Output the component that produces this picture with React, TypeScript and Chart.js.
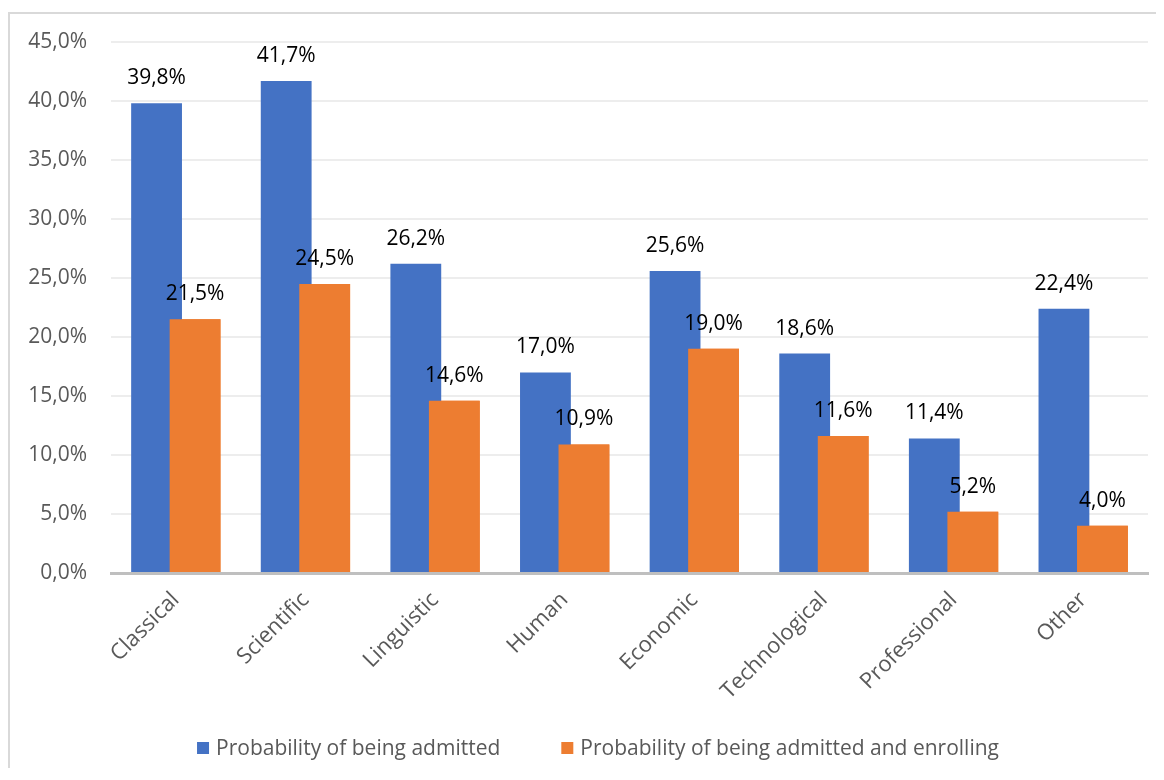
import React, { useEffect, useRef } from "react";
import { Chart, registerables } from "chart.js";

Chart.register(...registerables);

const categories = [
  "Classical",
  "Scientific",
  "Linguistic",
  "Human",
  "Economic",
  "Technological",
  "Professional",
  "Other",
];

const admitted = [39.8, 41.7, 26.2, 17.0, 25.6, 18.6, 11.4, 22.4];
const admittedAndEnrolling = [21.5, 24.5, 14.6, 10.9, 19.0, 11.6, 5.2, 4.0];

const seriesNames = [
  "Probability of being admitted",
  "Probability of being admitted and enrolling",
];

const seriesColors = ["#4472C4", "#ED7D31"];

const yTicks = [0, 5, 10, 15, 20, 25, 30, 35, 40, 45];

const FONT = "'Open Sans', Lato, sans-serif";
const FONT_SIZE = 21;
const fmt = (v: number) => v.toFixed(1).replace(".", ",") + "%";

// Puts the second series over the first where the grouped bars overlap,
// then writes each bar's value just above its top edge
const overlapAndLabels = {
  id: "overlapAndLabels",
  afterDatasetsDraw(chart: any) {
    const ctx = chart.ctx;
    const front = chart.getDatasetMeta(1);
    if (front && front.controller) front.controller.draw();

    ctx.save();
    ctx.font = `${FONT_SIZE}px ${FONT}`;
    ctx.fillStyle = "#000000";
    ctx.textAlign = "center";
    ctx.textBaseline = "alphabetic";
    chart.data.datasets.forEach((ds: any, i: number) => {
      const meta = chart.getDatasetMeta(i);
      meta.data.forEach((bar: any, j: number) => {
        ctx.fillText(fmt(ds.data[j]), bar.x, bar.y - 19);
      });
    });
    ctx.restore();
  },
};

// Legend row along the bottom: square swatch, then the series name
const bottomLegend = {
  id: "bottomLegend",
  afterDraw(chart: any) {
    const ctx = chart.ctx;
    const box = 12;
    const textGap = 7;
    const itemGap = 61;
    const centerY = chart.height - 24;
    ctx.save();
    ctx.font = `${FONT_SIZE}px ${FONT}`;
    ctx.textBaseline = "middle";
    ctx.textAlign = "left";
    const widths = seriesNames.map((n) => ctx.measureText(n).width);
    const total =
      widths.reduce((a, w) => a + box + textGap + w, 0) + itemGap * (seriesNames.length - 1);
    let x = chart.width / 2 + 11 - total / 2;
    seriesNames.forEach((name, i) => {
      ctx.fillStyle = seriesColors[i];
      ctx.fillRect(x, centerY - box / 2, box, box);
      x += box + textGap;
      ctx.fillStyle = "#595959";
      ctx.fillText(name, x, centerY + 1);
      x += widths[i] + itemGap;
    });
    ctx.restore();
  },
};

export default function App() {
  const canvasRef = useRef<HTMLCanvasElement | null>(null);

  useEffect(() => {
    if (!canvasRef.current) return;
    const chart = new Chart(canvasRef.current, {
      type: "bar",
      data: {
        labels: categories,
        datasets: [
          {
            label: seriesNames[0],
            data: admitted,
            backgroundColor: seriesColors[0],
            borderWidth: 0,
            categoryPercentage: 0.594,
            barPercentage: 1.32,
          },
          {
            label: seriesNames[1],
            data: admittedAndEnrolling,
            backgroundColor: seriesColors[1],
            borderWidth: 0,
            categoryPercentage: 0.594,
            barPercentage: 1.32,
          },
        ],
      },
      options: {
        responsive: false,
        animation: false,
        devicePixelRatio: 1,
        layout: { padding: { top: 28, right: 16, left: 0, bottom: 49 } },
        plugins: {
          tooltip: { enabled: false },
          legend: { display: false },
        },
        scales: {
          x: {
            grid: { display: false },
            border: { display: true, color: "#BFBFBF", width: 3 },
            ticks: {
              color: "#595959",
              font: { family: FONT, size: 22 },
              minRotation: 45,
              maxRotation: 45,
              padding: 6,
            },
            afterFit: (scale: any) => {
              scale.height = 150;
            },
          },
          y: {
            min: 0,
            max: 45,
            afterBuildTicks: (scale: any) => {
              scale.ticks = yTicks.map((v) => ({ value: v }));
            },
            grid: {
              color: (c: any) => (c.tick && c.tick.value === 0 ? "rgba(0,0,0,0)" : "#EDEDED"),
              lineWidth: 2,
              drawTicks: true,
              tickLength: 24,
              tickColor: "rgba(0,0,0,0)",
            },
            border: { display: false },
            ticks: {
              color: "#595959",
              font: { family: FONT, size: FONT_SIZE },
              padding: 0,
              callback: (v: any) => fmt(Number(v)),
            },
            afterFit: (scale: any) => {
              scale.width = 101;
            },
          },
        },
      },
      plugins: [overlapAndLabels, bottomLegend],
    });
    return () => chart.destroy();
  }, []);

  return (
    <div
      style={{
        position: "relative",
        top: 4,
        width: 1154,
        height: 758,
        borderTop: "2px solid #D9D9D9",
        borderLeft: "2px solid #D9D9D9",
        background: "#FFFFFF",
      }}
    >
      <canvas ref={canvasRef} width={1154} height={758} style={{ display: "block" }} />
    </div>
  );
}
